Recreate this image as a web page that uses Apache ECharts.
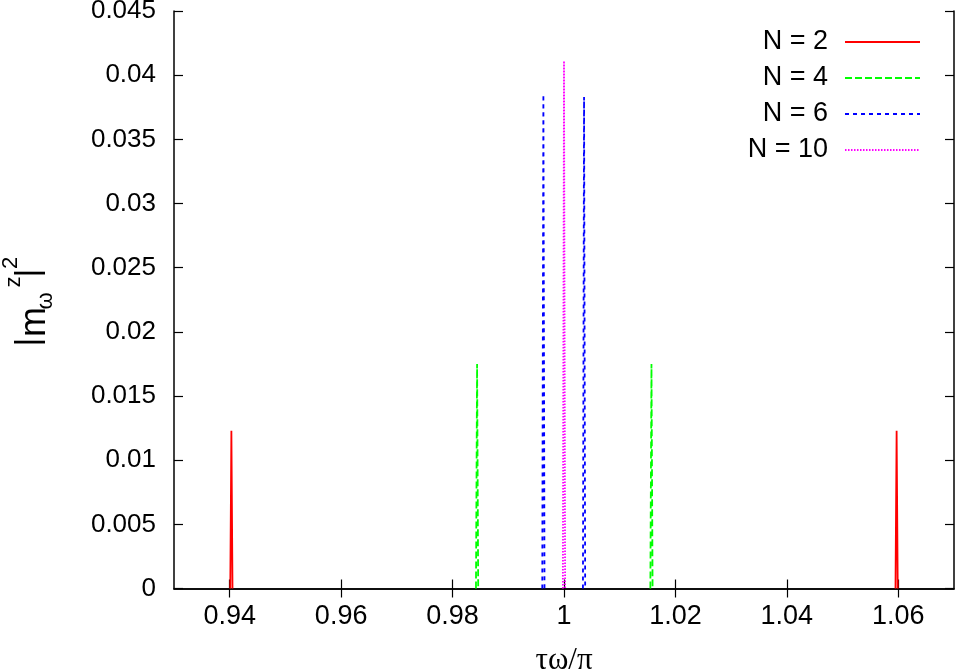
<!DOCTYPE html>
<html>
<head>
<meta charset="utf-8">
<title>|m_w^z|^2 vs tau*omega/pi</title>
<script src="https://cdn.jsdelivr.net/npm/echarts@6/dist/echarts.min.js"></script>
<style>
  html, body { margin: 0; padding: 0; background: #fff; }
  #chart { width: 956px; height: 671px; }
</style>
</head>
<body>
<div id="chart"></div>
<script>
// series names
const seriesNames = ['N = 2', 'N = 4', 'N = 6', 'N = 10'];

// x tick labels (tau*omega/pi)
const xTicks = [0.94, 0.96, 0.98, 1.0, 1.02, 1.04, 1.06];

// spike points [x, y], '-' breaks the line between separate peaks
const dataN2 = [
  [0.9401, 0], [0.9403, 0.0123], [0.9405, 0], [1.0, '-'],
  [1.0595, 0], [1.0597, 0.0123], [1.0599, 0]
];
const dataN4 = [
  [0.9842, 0], [0.9844, 0.0175], [0.9846, 0], [1.0, '-'],
  [1.0155, 0], [1.0157, 0.0175], [1.0159, 0]
];
const dataN6 = [
  [0.9961, 0], [0.9963, 0.0385], [0.9965, 0], [1.0, '-'],
  [1.0034, 0], [1.0036, 0.0383], [1.0038, 0]
];
const dataN10 = [
  [0.9998, 0], [1.0000, 0.0411], [1.0002, 0]
];

const chart = echarts.init(document.getElementById('chart'), null, { renderer: 'canvas' });

const labelFont = 'Liberation Sans, Arial, sans-serif';
const axisBlack = { show: true, lineStyle: { color: '#000', width: 1.5 } };
const tickIn = { show: true, inside: true, length: 9, lineStyle: { color: '#000', width: 1.2 } };

function lineSeries(name, data, color, dash) {
  return {
    name: name,
    type: 'line',
    data: data,
    symbol: 'none',
    connectNulls: false,
    lineStyle: { color: color, width: 1.8, type: dash },
    itemStyle: { color: color },
    z: 3
  };
}

function yTitlePiece(text, x, y, size) {
  return {
    type: 'text', x: x, y: y, rotation: Math.PI / 2,
    style: { text: text, fontSize: size, fontFamily: labelFont, fill: '#000', align: 'center', verticalAlign: 'middle' }
  };
}

const option = {
  animation: false,
  backgroundColor: '#fff',
  grid: { left: 174, right: 2, top: 11, bottom: 82.5, containLabel: false, outerBoundsMode: 'none' },
  legend: {
    data: seriesNames,
    orient: 'vertical',
    right: 30,
    top: 22,
    align: 'right',
    itemWidth: 75,
    itemHeight: 20,
    itemGap: 6,
    itemStyle: { opacity: 0 },
    textStyle: { fontSize: 27, lineHeight: 30, color: '#000', fontFamily: labelFont, padding: [0, 12, 0, 0] }
  },
  xAxis: [
    {
      type: 'value',
      position: 'bottom',
      min: 0.93,
      max: 1.07,
      name: 'τω/π',
      nameLocation: 'middle',
      nameGap: 57,
      nameTextStyle: { fontSize: 31, color: '#000', fontFamily: 'Liberation Serif, Times New Roman, serif' },
      axisLine: axisBlack,
      axisTick: Object.assign({ customValues: xTicks }, tickIn),
      axisLabel: {
        customValues: xTicks,
        fontSize: 27,
        color: '#000',
        fontFamily: labelFont,
        margin: 15,
        formatter: v => String(+v.toFixed(4))
      },
      splitLine: { show: false }
    },
    {
      type: 'value',
      position: 'top',
      min: 0.93,
      max: 1.07,
      axisLine: axisBlack,
      axisTick: Object.assign({ customValues: xTicks }, tickIn),
      axisLabel: { show: false },
      splitLine: { show: false }
    }
  ],
  yAxis: [
    {
      type: 'value',
      position: 'left',
      min: 0,
      max: 0.045,
      interval: 0.005,
      axisLine: axisBlack,
      axisTick: tickIn,
      axisLabel: {
        fontSize: 26,
        color: '#000',
        fontFamily: labelFont,
        margin: 18,
        formatter: v => String(+v.toFixed(4))
      },
      splitLine: { show: false }
    },
    {
      type: 'value',
      position: 'right',
      min: 0,
      max: 0.045,
      interval: 0.005,
      axisLine: axisBlack,
      axisTick: tickIn,
      axisLabel: { show: false },
      splitLine: { show: false }
    }
  ],
  graphic: [
    // y axis title |m_ω^z|^2, pieces rotated to read bottom-to-top
    yTitlePiece('|', 29, 342, 34),
    yTitlePiece('m', 35, 322, 36),
    yTitlePiece('ω', 46, 301, 22),
    yTitlePiece('z', 14, 282, 22),
    yTitlePiece('|', 29, 273, 34),
    yTitlePiece('2', 11, 263, 22)
  ],
  series: [
    lineSeries(seriesNames[0], dataN2, '#ff0000', 'solid'),
    lineSeries(seriesNames[1], dataN4, '#00ff00', [7, 3]),
    lineSeries(seriesNames[2], dataN6, '#0000ff', [4, 4]),
    lineSeries(seriesNames[3], dataN10, '#ff00ff', [1.5, 1.5])
  ]
};

chart.setOption(option);
window.addEventListener('resize', () => chart.resize());
</script>
</body>
</html>
